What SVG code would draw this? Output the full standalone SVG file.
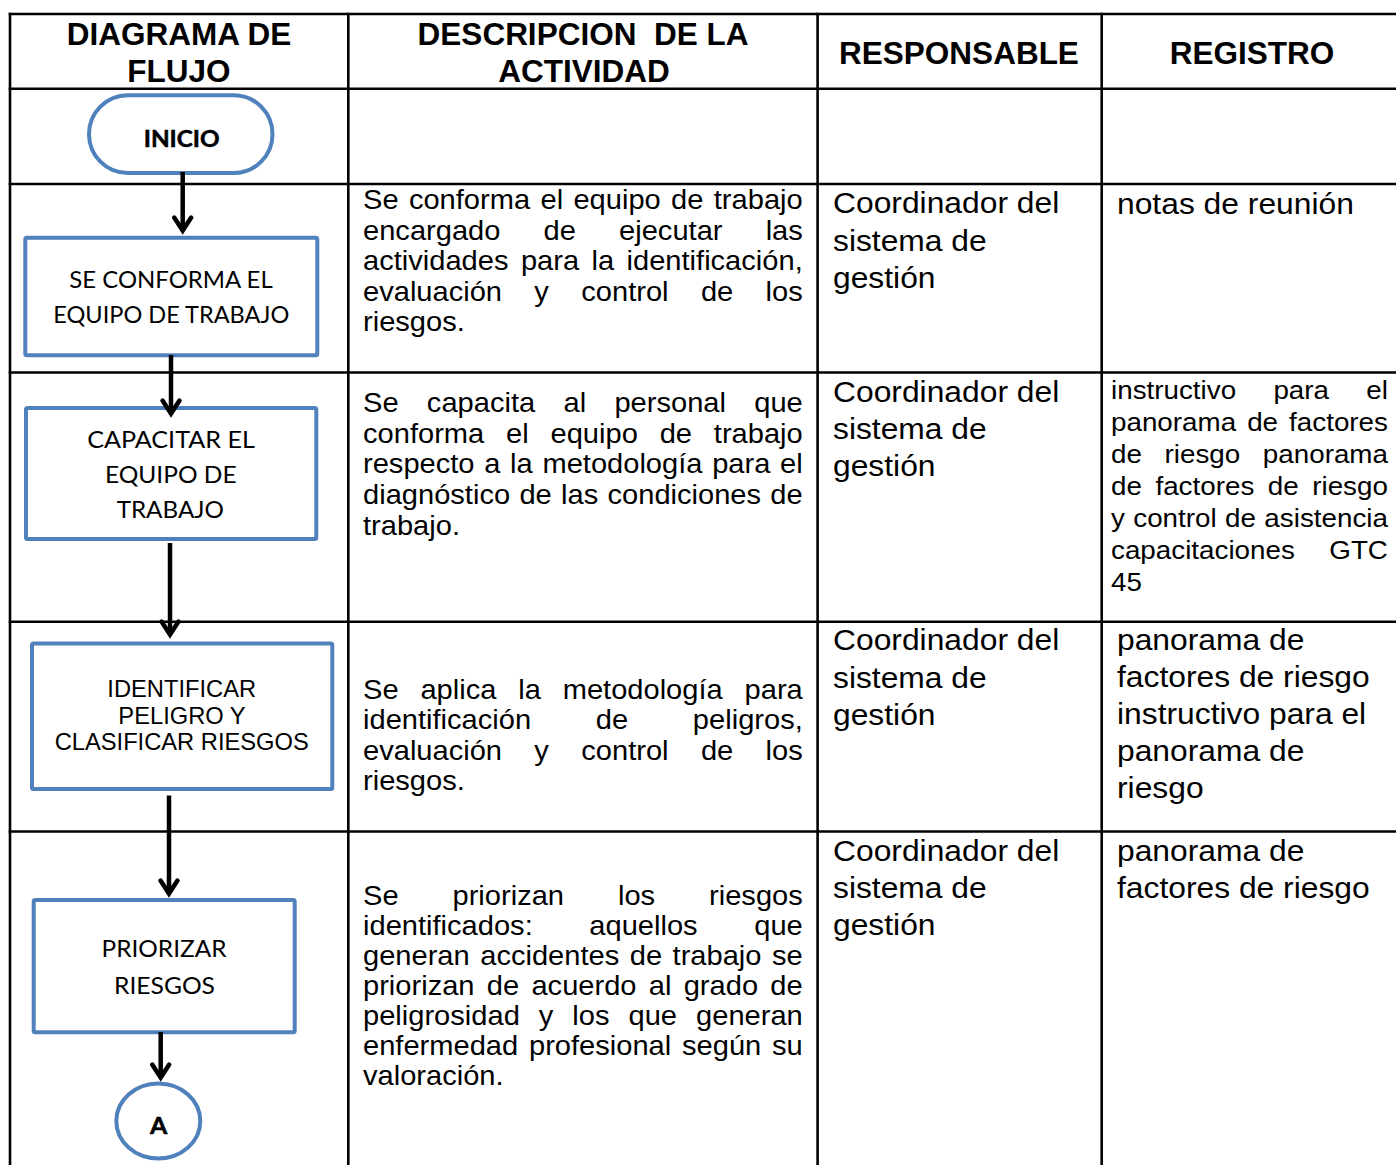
<svg xmlns="http://www.w3.org/2000/svg" width="1396" height="1165" viewBox="0 0 1396 1165">
<defs>
<style>
.grid line{stroke:#000;stroke-width:2.6}
.hdr{font-family:"Liberation Sans",Arial,sans-serif;font-weight:bold;font-size:31.5px;text-anchor:middle;fill:#000}
.b{font-family:"Liberation Sans",Arial,sans-serif;fill:#000}
.d{font-size:27.45px}
.r{font-size:30px}
.r2{font-size:26.23px}
.node rect,.node ellipse{fill:#fff;stroke:#4F81BD;stroke-width:4}
.nt{font-family:Lato,"Liberation Sans",sans-serif;font-size:23px;text-anchor:middle;fill:#000}
.ntb{font-weight:bold;stroke:#000;stroke-width:0.5}
.na{font-family:"Liberation Sans",Arial,sans-serif;font-size:23.7px;text-anchor:middle;fill:#000}
.conn line{stroke:#000;stroke-width:4.5;marker-end:url(#ah)}
</style>
<marker id="ah" markerUnits="userSpaceOnUse" viewBox="-20 -14 28 28" refX="0" refY="0" markerWidth="28" markerHeight="28" orient="auto" overflow="visible">
<path d="M-13,-8.5 L0,0 L-13,8.5" fill="none" stroke="#000" stroke-width="4.5" stroke-linecap="round" stroke-linejoin="miter"/>
</marker>
</defs>
<rect width="1396" height="1165" fill="#fff"/>
<g class="grid" id="table">
<line x1="8.7" y1="14" x2="1396" y2="14"/>
<line x1="8.7" y1="88.7" x2="1396" y2="88.7"/>
<line x1="8.7" y1="184" x2="1396" y2="184"/>
<line x1="8.7" y1="372.5" x2="1396" y2="372.5"/>
<line x1="8.7" y1="621.8" x2="1396" y2="621.8"/>
<line x1="8.7" y1="831.5" x2="1396" y2="831.5"/>
<line x1="10" y1="12.7" x2="10" y2="1165"/>
<line x1="348.3" y1="12.7" x2="348.3" y2="1165"/>
<line x1="817.6" y1="12.7" x2="817.6" y2="1165"/>
<line x1="1101.7" y1="12.7" x2="1101.7" y2="1165"/>
</g>
<g id="headers">
<text class="hdr" x="179" y="45">DIAGRAMA DE</text>
<text class="hdr" x="179" y="82">FLUJO</text>
<text class="hdr" x="583" y="45" style="white-space:pre">DESCRIPCION  DE LA</text>
<text class="hdr" x="584" y="82">ACTIVIDAD</text>
<text class="hdr" x="959" y="64">RESPONSABLE</text>
<text class="hdr" x="1252" y="64">REGISTRO</text>
</g>
<g id="descripcion" class="b d" transform="translate(363 0) scale(1.06 1)">
<text x="0" y="209.5" word-spacing="2.14">Se conforma el equipo de trabajo</text>
<text x="0" y="240" word-spacing="33.08">encargado de ejecutar las</text>
<text x="0" y="270.5" word-spacing="4.09">actividades para la identificación,</text>
<text x="0" y="301" word-spacing="22.9">evaluación y control de los</text>
<text x="0" y="331.5">riesgos.</text>
<text x="0" y="412.5" word-spacing="19.08">Se capacita al personal que</text>
<text x="0" y="443" word-spacing="12.98">conforma el equipo de trabajo</text>
<text x="0" y="473.5" word-spacing="1.53">respecto a la metodología para el</text>
<text x="0" y="504.5" word-spacing="1.15">diagnóstico de las condiciones de</text>
<text x="0" y="535">trabajo.</text>
<text x="0" y="699" word-spacing="12.98">Se aplica la metodología para</text>
<text x="0" y="729.5" word-spacing="53.43">identificación de peligros,</text>
<text x="0" y="760" word-spacing="22.9">evaluación y control de los</text>
<text x="0" y="790.5">riesgos.</text>
<text x="0" y="905" word-spacing="43.26">Se priorizan los riesgos</text>
<text x="0" y="935" word-spacing="45.79">identificados: aquellos que</text>
<text x="0" y="965" word-spacing="2.29">generan accidentes de trabajo se</text>
<text x="0" y="995" word-spacing="3.97">priorizan de acuerdo al grado de</text>
<text x="0" y="1025" word-spacing="10.31">peligrosidad y los que generan</text>
<text x="0" y="1055" word-spacing="2.56">enfermedad profesional según su</text>
<text x="0" y="1085">valoración.</text>
</g>
<g id="responsable" class="b r" transform="translate(833 0) scale(1.06 1)">
<text x="0" y="213.3">Coordinador del</text>
<text x="0" y="250.8">sistema de</text>
<text x="0" y="288">gestión</text>
<text x="0" y="402">Coordinador del</text>
<text x="0" y="439.3">sistema de</text>
<text x="0" y="476.3">gestión</text>
<text x="0" y="650.5">Coordinador del</text>
<text x="0" y="688">sistema de</text>
<text x="0" y="725">gestión</text>
<text x="0" y="861">Coordinador del</text>
<text x="0" y="898">sistema de</text>
<text x="0" y="935">gestión</text>
</g>
<g id="registro" class="b r" transform="translate(1117 0) scale(1.06 1)">
<text x="0" y="214">notas de reunión</text>
<text x="0" y="650.5">panorama de</text>
<text x="0" y="687.5">factores de riesgo</text>
<text x="0" y="724.5">instructivo para el</text>
<text x="0" y="761.5">panorama de</text>
<text x="0" y="798">riesgo</text>
<text x="0" y="861">panorama de</text>
<text x="0" y="898">factores de riesgo</text>
</g>
<g id="registro2" class="b r2" transform="translate(1111 0) scale(1.06 1)">
<text x="0" y="399.5" word-spacing="27.92">instructivo para el</text>
<text x="0" y="431.5" word-spacing="3.11">panorama de factores</text>
<text x="0" y="463.5" word-spacing="14.04">de riesgo panorama</text>
<text x="0" y="495.5" word-spacing="5.47">de factores de riesgo</text>
<text x="0" y="527.5" word-spacing="0.62">y control de asistencia</text>
<text x="0" y="559.5" word-spacing="25.19">capacitaciones GTC</text>
<text x="0" y="591.5">45</text>
</g>
<g class="node" id="inicio">
<rect x="89" y="95.3" width="183.5" height="77.7" rx="38.8"/>
<text class="nt ntb" x="181.7" y="146.7" font-size="24" textLength="76" lengthAdjust="spacingAndGlyphs">INICIO</text>
</g>
<g class="node" id="conformar">
<rect x="25.3" y="237.7" width="292" height="117.6" rx="1.5"/>
<text class="nt" x="171" y="288.3" textLength="203.4" lengthAdjust="spacingAndGlyphs">SE CONFORMA EL</text>
<text class="nt" x="171.3" y="322.7" textLength="236" lengthAdjust="spacingAndGlyphs">EQUIPO DE TRABAJO</text>
</g>
<g class="node" id="capacitar">
<rect x="26" y="408" width="290.3" height="131" rx="1.5"/>
<text class="nt" x="171" y="447.7" textLength="167.7" lengthAdjust="spacingAndGlyphs">CAPACITAR EL</text>
<text class="nt" x="170.8" y="483.3" textLength="131.7" lengthAdjust="spacingAndGlyphs">EQUIPO DE</text>
<text class="nt" x="170.3" y="518.3" textLength="107.3" lengthAdjust="spacingAndGlyphs">TRABAJO</text>
</g>
<g class="node" id="identificar">
<rect x="32" y="643.5" width="300.3" height="145.5" rx="1.5"/>
<text class="na" x="181.7" y="697.2">IDENTIFICAR</text>
<text class="na" x="182" y="724.3">PELIGRO Y</text>
<text class="na" x="181.7" y="750.3">CLASIFICAR RIESGOS</text>
</g>
<g class="node" id="priorizar">
<rect x="33.7" y="900" width="261" height="132.3" rx="1.5"/>
<text class="nt" x="164" y="957.2" textLength="125" lengthAdjust="spacingAndGlyphs">PRIORIZAR</text>
<text class="nt" x="164.5" y="993.7" textLength="101" lengthAdjust="spacingAndGlyphs">RIESGOS</text>
</g>
<g class="node" id="conectorA">
<ellipse cx="158.3" cy="1121" rx="42" ry="37.5"/>
<text class="nt ntb" x="158.7" y="1133.7" font-size="25.7" textLength="17.3" lengthAdjust="spacingAndGlyphs">A</text>
</g>
<g class="conn" id="connectors">
<line x1="182.7" y1="172" x2="182.7" y2="230.6"/>
<line x1="171" y1="355" x2="171" y2="413.6"/>
<line x1="170" y1="543" x2="170" y2="634.6"/>
<line x1="169" y1="795.5" x2="169" y2="893.6"/>
<line x1="160.7" y1="1032" x2="160.7" y2="1077.6"/>
</g>
</svg>
